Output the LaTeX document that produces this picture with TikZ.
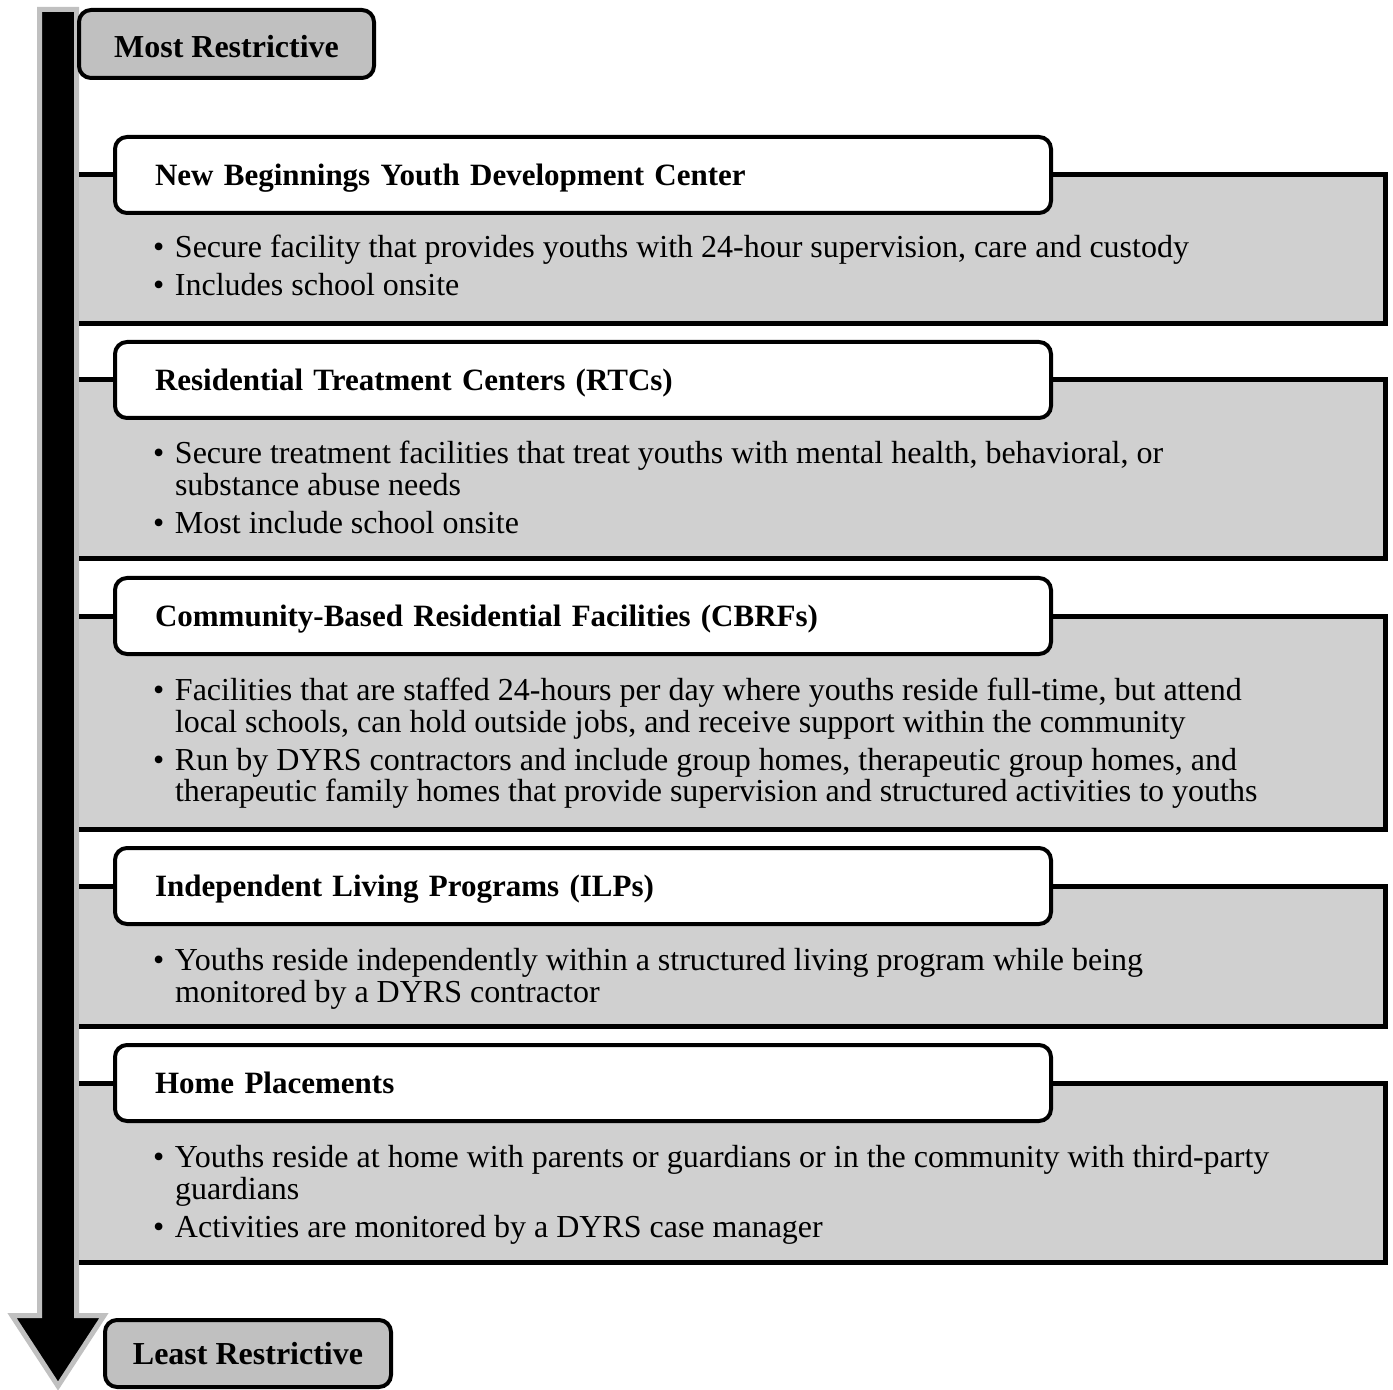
\documentclass[tikz,border=0pt]{standalone}
\usepackage{fontspec}
\setmainfont{Liberation Serif}
\usetikzlibrary{positioning}

\definecolor{panelgray}{HTML}{D0D0D0}
\definecolor{capgray}{HTML}{C0C0C0}

\newcommand\bitem[1]{\par\hangindent=11pt\hangafter=1\noindent\makebox[11pt][l]{\textbullet}#1}
\newcommand\blist[1]{\vtop{\hsize=620pt\parskip=3pt\parindent=0pt\raggedright #1\par}}

\tikzset{
  panel/.style={fill=panelgray,draw=black,line width=2.5pt,line join=miter},
  headbox/.style={rectangle,rounded corners=6pt,draw=black,fill=white,line width=2pt,
    anchor=west,outer sep=0pt,inner xsep=20pt,inner ysep=2pt,text width=428pt,align=left,
    text depth=0pt,minimum height=38pt,font=\fontsize{15.5}{16}\selectfont\bfseries},
  bullettext/.style={anchor=base west,inner sep=0pt,outer sep=0pt,
    font=\fontsize{16}{16}\selectfont},
  endbox/.style={rectangle,rounded corners=6pt,draw=black,fill=capgray,line width=2pt,
    outer sep=0pt,font=\fontsize{16}{18}\selectfont\bfseries}
}

\begin{document}
\begin{tikzpicture}[x=0.5pt,y=-0.5pt]
\useasboundingbox (0,0) rectangle (1393,1390);
\draw[fill=black,draw=capgray,line width=2.5pt,line join=miter] (39.5,9.5) -- (76.5,9.5) -- (76.5,1315.5) -- (104,1315.5) -- (58,1386) -- (12,1315.5) -- (39.5,1315.5) -- cycle;

\draw[panel] (79,175) -- (1385,175) -- (1385,324) -- (79,324);
\node[headbox] (nbydc) at (115,175) {New Beginnings Youth Development Center};
\node[bullettext] (nbydc-text) at (153,258) {\blist{\bitem{Secure facility that provides youths with 24-hour supervision, care and custody}
\bitem{Includes school onsite}}};

\draw[panel] (79,380) -- (1385,380) -- (1385,559) -- (79,559);
\node[headbox] (rtc) at (115,380) {Residential Treatment Centers (RTCs)};
\node[bullettext] (rtc-text) at (153,464) {\blist{\bitem{Secure treatment facilities that treat youths with mental health, behavioral, or\newline substance abuse needs}
\bitem{Most include school onsite}}};

\draw[panel] (79,616) -- (1385,616) -- (1385,829) -- (79,829);
\node[headbox] (cbrf) at (115,616) {Community-Based Residential Facilities (CBRFs)};
\node[bullettext] (cbrf-text) at (153,700) {\blist{\bitem{Facilities that are staffed 24-hours per day where youths reside full-time, but attend\newline local schools, can hold outside jobs, and receive support within the community}
\bitem{Run by DYRS contractors and include group homes, therapeutic group homes, and\newline therapeutic family homes that provide supervision and structured activities to youths}}};

\draw[panel] (79,886) -- (1385,886) -- (1385,1026) -- (79,1026);
\node[headbox] (ilp) at (115,886) {Independent Living Programs (ILPs)};
\node[bullettext] (ilp-text) at (153,970) {\blist{\bitem{Youths reside independently within a structured living program while being\newline monitored by a DYRS contractor}}};

\draw[panel] (79,1083) -- (1385,1083) -- (1385,1262) -- (79,1262);
\node[headbox] (home) at (115,1083) {Home Placements};
\node[bullettext] (home-text) at (153,1167) {\blist{\bitem{Youths reside at home with parents or guardians or in the community with third-party\newline guardians}
\bitem{Activities are monitored by a DYRS case manager}}};

\node[endbox,minimum width=147.5pt,minimum height=34pt,text height=13.5pt,text depth=0pt] (most) at (226.5,44) {Most Restrictive};
\node[endbox,minimum width=143pt,minimum height=33.5pt] (least) at (248,1353.5) {Least Restrictive};

\end{tikzpicture}
\end{document}
